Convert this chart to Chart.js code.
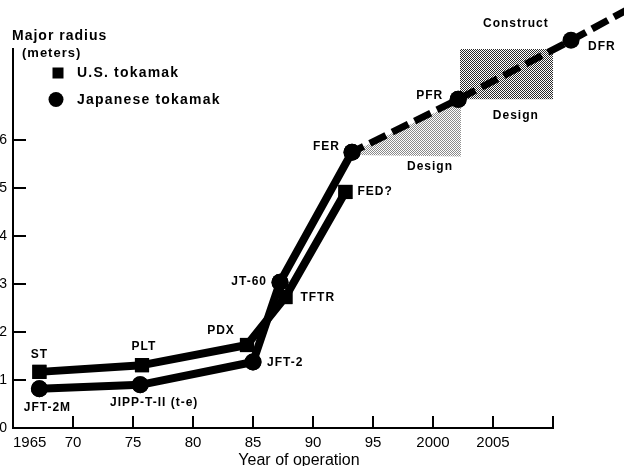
<!DOCTYPE html>
<html><head><meta charset="utf-8">
<script src="https://cdn.jsdelivr.net/npm/chart.js@4.4.1/dist/chart.umd.min.js"></script>
<style>
html,body{margin:0;padding:0;background:#fff;overflow:hidden;width:624px;height:466px;}
#wrap{position:absolute;left:0;top:0;width:624px;height:474px;}
</style></head><body><div id="wrap"><canvas id="c"></canvas></div>
<script>
// ---- data ----
const usYears   = [1967.2, 1975.75, 1984.5, 1987.7, 1992.7];
const usRadius  = [1.17, 1.31, 1.73, 2.73, 4.92];
const usNames   = ['ST', 'PLT', 'PDX', 'TFTR', 'FED?'];

const jpYears   = [1967.2, 1975.6, 1985.0, 1987.25, 1993.25];
const jpRadius  = [0.82, 0.90, 1.375, 3.04, 5.75];
const jpNames   = ['JFT-2M', 'JIPP-T-II (t-e)', 'JFT-2', 'JT-60', 'FER'];

const planYears  = [1993.25, 2002.1, 2011.5, 2016.4];
const planRadius = [5.75, 6.85, 8.08, 8.75];
const planNames  = ['', 'PFR', 'DFR', ''];

const constructYears  = [2002.25, 2011.5];
const constructTop    = [8.10, 8.10];
const constructBottom = [6.85, 6.85];

const designYears  = [1993.25, 2002.33];
const designTop    = [5.75, 6.83];
const designBottom = [5.69, 5.66];

const regionLabels      = ['Construct', 'Design', 'Design'];
const regionLabelYears  = [2006.9, 2006.9, 1999.75];
const regionLabelRadius = [8.42, 6.5, 5.44];

const xTickValues = [1965, 1970, 1975, 1980, 1985, 1990, 1995, 2000, 2005, 2010];
const xTickLabels = ['1965', '70', '75', '80', '85', '90', '95', '2000', '2005', ''];
const yTickValues = [0, 1, 2, 3, 4, 5, 6];
const yTickLabels = ['0', '1', '2', '3', '4', '5', '6'];

const legendLabels = ['U.S. tokamak', 'Japanese tokamak'];
const titleLines   = ['Major radius', '(meters)'];
const xAxisTitle   = 'Year of operation';

// ---- styles ----
const FONT = '"Liberation Sans", Arial, Helvetica, sans-serif';
const labelStyle = {
  0: [[0,-17,'center'],[2,-18,'center'],[-26,-14,'center'],[15,1,'left'],[12,0,'left']],
  1: [[8,19,'center'],[14,18,'center'],[14,1,'left'],[-13,0,'right'],[-12,-5,'right']],
  2: [null,[-15,-4,'right'],[17,6,'left'],null]
};
const namesByDataset = {0: usNames, 1: jpNames, 2: planNames};
const reversedDatasets = {2: true}; // plan line is fed end-first so the tail past 2010 is kept

function makePattern(size, dots, color) {
  const c = document.createElement('canvas');
  c.width = c.height = size;
  const g = c.getContext('2d');
  g.fillStyle = '#fff'; g.fillRect(0, 0, size, size);
  g.fillStyle = color;
  dots.forEach(([x, y]) => g.fillRect(x, y, 1, 1));
  return g.createPattern(c, 'repeat');
}
const darkPattern  = makePattern(2, [[0,0],[1,1]], '#2a2a2a');
const lightPattern = makePattern(2, [[0,0],[1,1]], '#8a8a8a');

const pts = (xs, ys) => xs.map((x, i) => ({x, y: ys[i]}));

const decor = {
  id: 'decor',
  beforeDatasetsDraw(chart) {
    const {ctx, scales: {x, y}} = chart;
    ctx.save();
    ctx.strokeStyle = '#000'; ctx.lineWidth = 2;
    yTickValues.slice(1).forEach(v => {
      const py = Math.round(y.getPixelForValue(v));
      ctx.beginPath(); ctx.moveTo(x.left, py); ctx.lineTo(x.left + 13, py); ctx.stroke();
    });
    xTickValues.slice(1).forEach(v => {
      const px = Math.round(x.getPixelForValue(v));
      ctx.beginPath(); ctx.moveTo(px, y.bottom); ctx.lineTo(px, y.bottom - 12); ctx.stroke();
    });
    ctx.restore();
  },
  afterDatasetsDraw(chart) {
    const {ctx, scales: {x, y}} = chart;
    [0, 1, 2].forEach(di => {
      chart.getDatasetMeta(di).data.forEach(el => el.draw(ctx));
    });
    ctx.save();
    ctx.fillStyle = '#000';
    ctx.textBaseline = 'middle';
    ctx.letterSpacing = '1px';
    ctx.font = 'bold 12px ' + FONT;
    Object.keys(namesByDataset).forEach(di => {
      const meta = chart.getDatasetMeta(+di);
      const names = namesByDataset[di];
      names.forEach((name, j) => {
        const st = labelStyle[di][j];
        if (!name || !st) return;
        const el = meta.data[reversedDatasets[di] ? names.length - 1 - j : j];
        ctx.textAlign = st[2];
        ctx.fillText(name, el.x + st[0], el.y + st[1]);
      });
    });
    ctx.textAlign = 'center';
    regionLabels.forEach((t, i) => {
      ctx.fillText(t, x.getPixelForValue(regionLabelYears[i]), y.getPixelForValue(regionLabelRadius[i]));
    });
    ctx.textAlign = 'left';
    ctx.font = 'bold 14px ' + FONT;
    ctx.fillText(titleLines[0], 12, 36);
    ctx.font = 'bold 13px ' + FONT;
    ctx.fillText(titleLines[1], 22, 53);
    ctx.fillRect(52.5, 67.5, 11, 11);
    ctx.beginPath(); ctx.arc(56, 99.5, 7.5, 0, Math.PI * 2); ctx.fill();
    ctx.font = 'bold 14px ' + FONT;
    ctx.letterSpacing = '1.2px';
    ctx.fillText(legendLabels[0], 77, 73);
    ctx.fillText(legendLabels[1], 77, 100);
    ctx.restore();
  }
};

new Chart(document.getElementById('c'), {
  type: 'line',
  data: {
    datasets: [
      { label: legendLabels[0], data: pts(usYears, usRadius), borderColor: '#000', borderWidth: 8,
        pointStyle: 'rect', pointRadius: 10, pointBackgroundColor: '#000', pointBorderWidth: 0,
        borderJoinStyle: 'round', tension: 0, clip: false, fill: false },
      { label: legendLabels[1], data: pts(jpYears, jpRadius), borderColor: '#000', borderWidth: 8,
        pointStyle: 'circle', pointRadius: 8.5, pointBackgroundColor: '#000', pointBorderWidth: 0,
        borderJoinStyle: 'round', tension: 0, clip: false, fill: false },
      { label: 'plan', data: pts(planYears, planRadius).reverse(), borderColor: '#000', borderWidth: 7,
        borderDash: [18, 7], pointStyle: 'circle', pointRadius: [0, 8.5, 8.5, 0],
        pointBackgroundColor: '#000', pointBorderWidth: 0, tension: 0, clip: false, fill: false },
      { label: 'construct-top', data: pts(constructYears, constructTop), borderColor: 'transparent',
        borderWidth: 0, pointRadius: 0, fill: 4, backgroundColor: darkPattern, clip: false },
      { label: 'construct-bottom', data: pts(constructYears, constructBottom), borderColor: 'transparent',
        borderWidth: 0, pointRadius: 0, fill: false, clip: false },
      { label: 'design-top', data: pts(designYears, designTop), borderColor: 'transparent',
        borderWidth: 0, pointRadius: 0, fill: 6, backgroundColor: lightPattern, clip: false },
      { label: 'design-bottom', data: pts(designYears, designBottom), borderColor: 'transparent',
        borderWidth: 0, pointRadius: 0, fill: false, clip: false }
    ]
  },
  options: {
    responsive: true, maintainAspectRatio: false, animation: false, events: [],
    layout: { padding: { top: 49, right: 71, left: 0, bottom: 0 } },
    plugins: { legend: { display: false }, tooltip: { enabled: false }, title: { display: false } },
    scales: {
      x: {
        type: 'linear', min: 1965, max: 2010,
        afterBuildTicks: s => { s.ticks = xTickValues.map(v => ({value: v})); },
        afterFit: s => { s.height = 46; s.paddingLeft = 0; s.paddingRight = 0; },
        ticks: { autoSkip: false, maxRotation: 0, padding: 6, color: '#000',
          font: { family: FONT, size: 15 },
          callback: v => {
            const t = xTickLabels[xTickValues.indexOf(v)] ?? '';
            return v === 1965 ? '\u2007\u2007\u2007\u2007' + t : t;
          } },
        grid: { display: false, drawTicks: false },
        border: { display: true, color: '#000', width: 2 },
        title: { display: true, text: '\u2002\u2002\u2002\u2002' + xAxisTitle, color: '#000',
          font: { family: FONT, size: 16 }, padding: { top: 0, bottom: 4 } }
      },
      y: {
        min: 0, max: 7.9,
        afterBuildTicks: s => { s.ticks = yTickValues.map(v => ({value: v})); },
        afterFit: s => { s.width = 13; s.paddingTop = 0; s.paddingBottom = 0; },
        ticks: { padding: 6, color: '#000', font: { family: FONT, size: 14 },
          callback: v => yTickLabels[yTickValues.indexOf(v)] ?? '' },
        grid: { display: false, drawTicks: false },
        border: { display: true, color: '#000', width: 2 }
      }
    }
  },
  plugins: [decor]
});
</script></body></html>
